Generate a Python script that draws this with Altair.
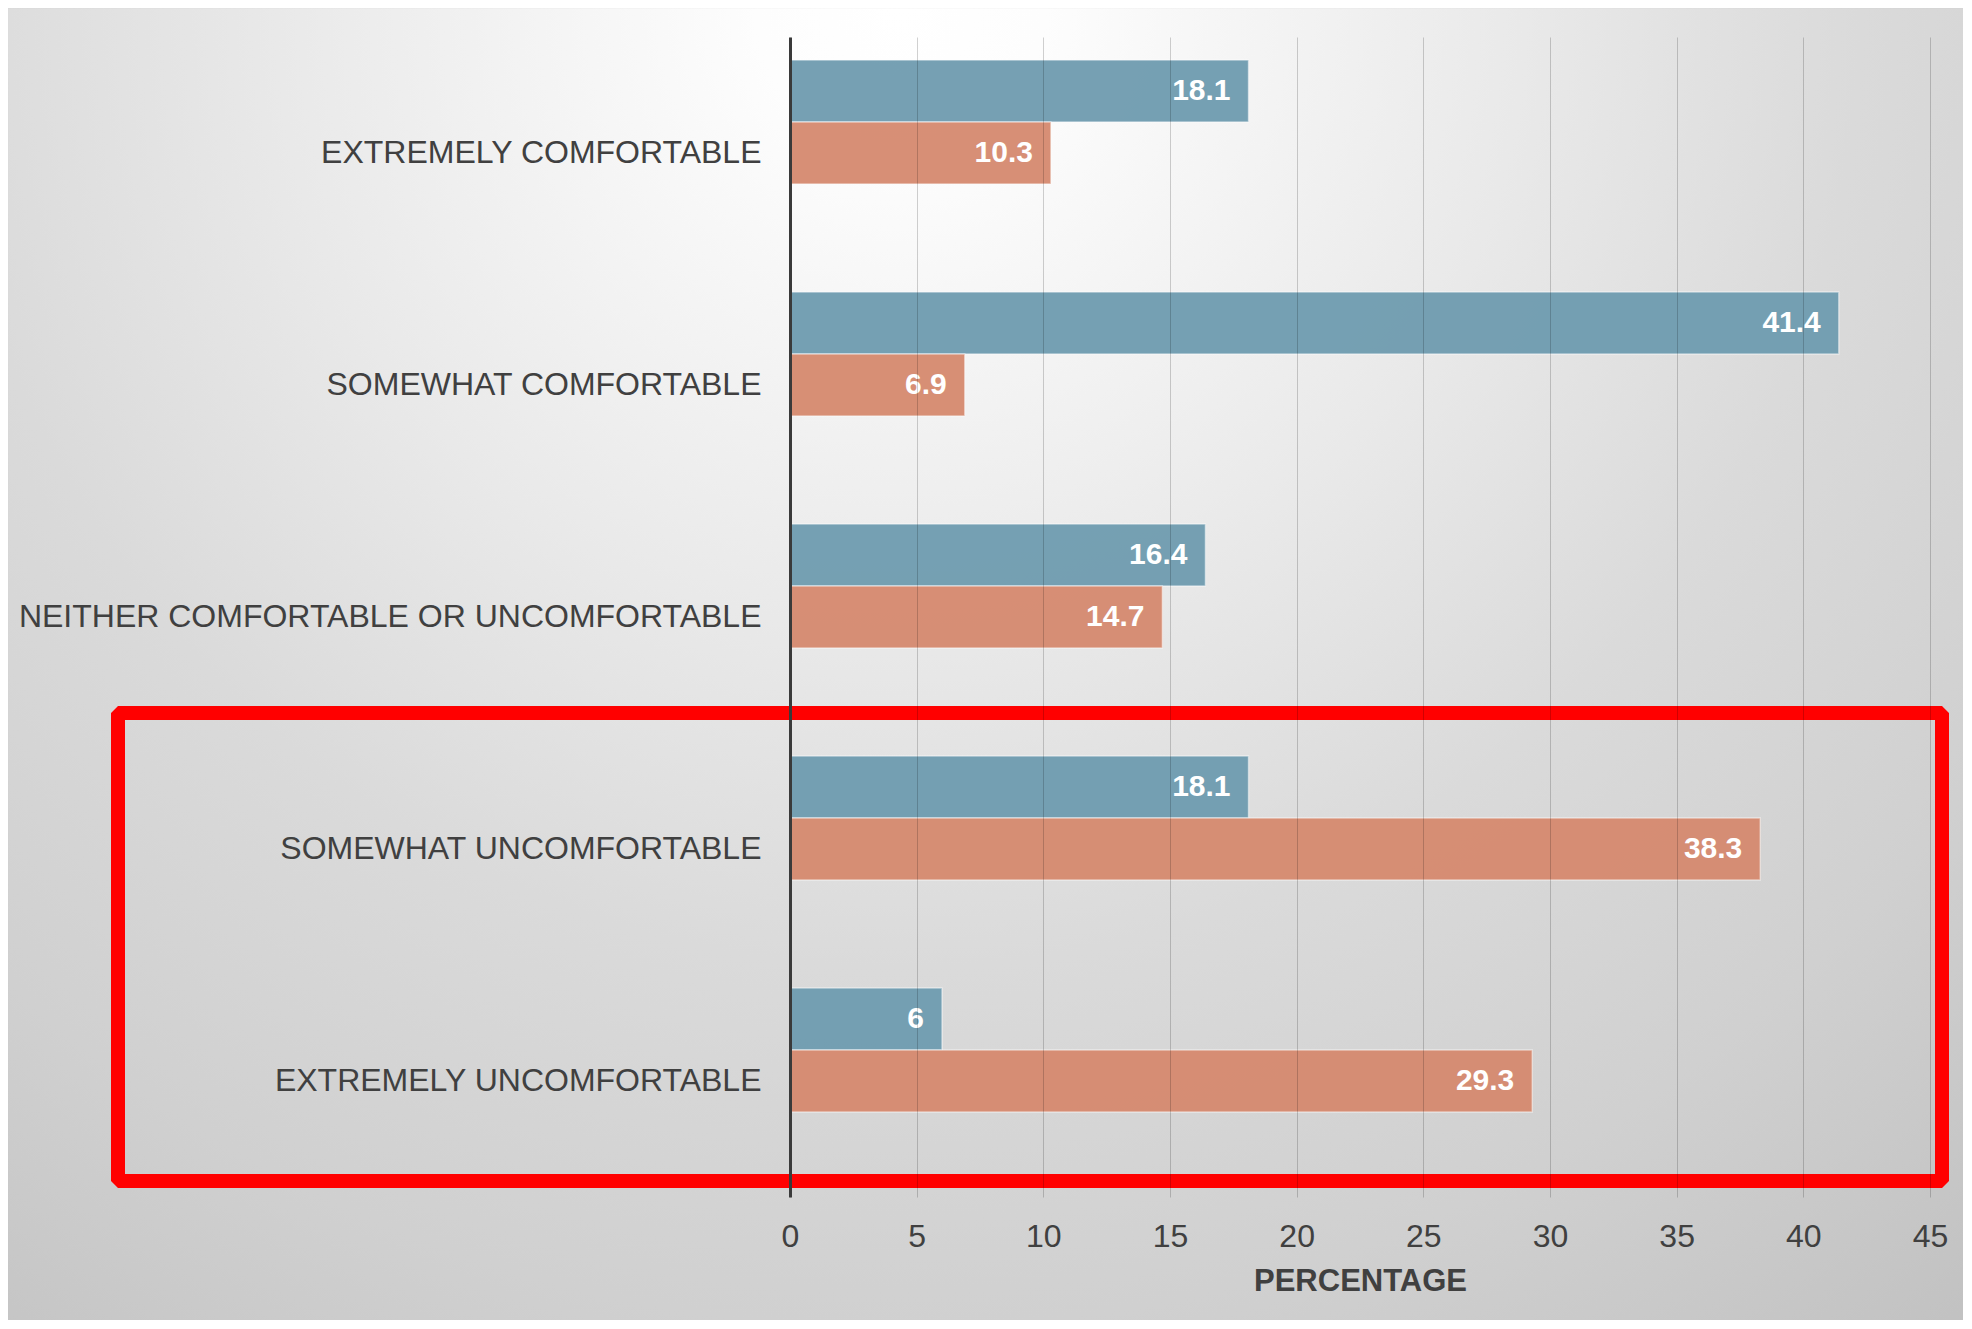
import altair as alt
import pandas as pd

categories = [
    "EXTREMELY COMFORTABLE",
    "SOMEWHAT COMFORTABLE",
    "NEITHER COMFORTABLE OR UNCOMFORTABLE",
    "SOMEWHAT UNCOMFORTABLE",
    "EXTREMELY UNCOMFORTABLE",
]
series_names = ["Series 1", "Series 2", "Series 3"]
series1_values = [18.1, 41.4, 16.4, 18.1, 6]
series2_values = [10.3, 6.9, 14.7, 38.3, 29.3]
x_tick_values = [0, 5, 10, 15, 20, 25, 30, 35, 40, 45]
series_colors = ["#6f9cb0", "#d68a6f", "#a5a5a5"]

rows = []
for cat, v in zip(categories, series1_values):
    rows.append({"cat": cat, "series": series_names[0], "value": v, "label": f"{v:g}"})
for cat, v in zip(categories, series2_values):
    rows.append({"cat": cat, "series": series_names[1], "value": v, "label": f"{v:g}"})
df = pd.DataFrame(rows)
one = pd.DataFrame({"k": [0]})

FONT = "Liberation Sans"
TXT = "#404040"
W, H = 1140, 1160
PAD_L, PAD_T, PAD_R, PAD_B = 782, 29, 33, 123

gradient = {
    "gradient": "radial",
    "x1": 0.372, "y1": 0, "r1": 0,
    "x2": 0.372, "y2": 0, "r2": 1,
    "stops": [
        {"offset": 0.0, "color": "#ffffff"},
        {"offset": 0.06, "color": "#fdfdfd"},
        {"offset": 0.26, "color": "#e9e9e9"},
        {"offset": 0.40, "color": "#dadada"},
        {"offset": 0.55, "color": "#d0d0d0"},
        {"offset": 0.70, "color": "#c2c2c2"},
        {"offset": 1.0, "color": "#b5b5b5"},
    ],
}

bg = alt.Chart(one).mark_rect(fill=gradient).encode(
    x=alt.value(-PAD_L), x2=alt.value(-PAD_L + 2400),
    y=alt.value(-PAD_T), y2=alt.value(-PAD_T + 2400),
)

base = alt.Chart(df).encode(
    y=alt.Y(
        "cat:N", sort=categories,
        scale=alt.Scale(paddingInner=0.198, paddingOuter=0.099),
        axis=alt.Axis(
            title=None, labelFontSize=32, labelColor=TXT, labelFont=FONT,
            labelPadding=29, ticks=False, tickSize=0, domainColor="#3a3a3a",
            domainWidth=3, grid=False, labelLimit=1000, zindex=1,
        ),
    ),
    yOffset=alt.YOffset(
        "series:N",
        scale=alt.Scale(domain=series_names, paddingInner=0, paddingOuter=0),
    ),
)

bars = base.mark_bar(
    stroke="white", strokeOpacity=0.5, strokeWidth=1.5, opacity=0.95
).encode(
    x=alt.X(
        "value:Q",
        scale=alt.Scale(domain=[0, 45], nice=False),
        axis=alt.Axis(
            values=x_tick_values, title="PERCENTAGE", grid=True,
            gridColor="#000000", gridOpacity=0.18, gridWidth=1,
            domain=False, ticks=False, labelFontSize=32, labelColor=TXT,
            labelFont=FONT, labelPadding=24, labelFlush=False,
            titleFontSize=31, titleFontWeight="bold", titleColor=TXT,
            titleFont=FONT, titleX=W / 2, titleY=93,
            titleBaseline="alphabetic", titleAlign="center", zindex=1,
        ),
    ),
    color=alt.Color(
        "series:N",
        scale=alt.Scale(domain=series_names, range=series_colors),
        legend=None,
    ),
)

labels = base.mark_text(
    align="right", baseline="middle", dx=-18, color="white",
    fontSize=30, fontWeight="bold", font=FONT,
).encode(x="value:Q", text="label:N")

red_box = alt.Chart(one).mark_rect(
    fill="transparent", stroke="#ff0000", strokeWidth=14, strokeJoin="bevel"
).encode(
    x=alt.value(118 - 790), x2=alt.value(1942 - 790),
    y=alt.value(713 - 37), y2=alt.value(1181 - 37),
)

chart = (
    alt.layer(bg, bars, labels, red_box)
    .properties(
        width=W, height=H,
        padding={"left": PAD_L, "top": PAD_T, "right": PAD_R, "bottom": PAD_B},
        autosize=alt.AutoSizeParams(type="none"),
    )
    .configure_view(strokeWidth=0)
    .configure(font=FONT)
)

chart.save("out.html", embed_options={"renderer": "svg", "actions": False})
